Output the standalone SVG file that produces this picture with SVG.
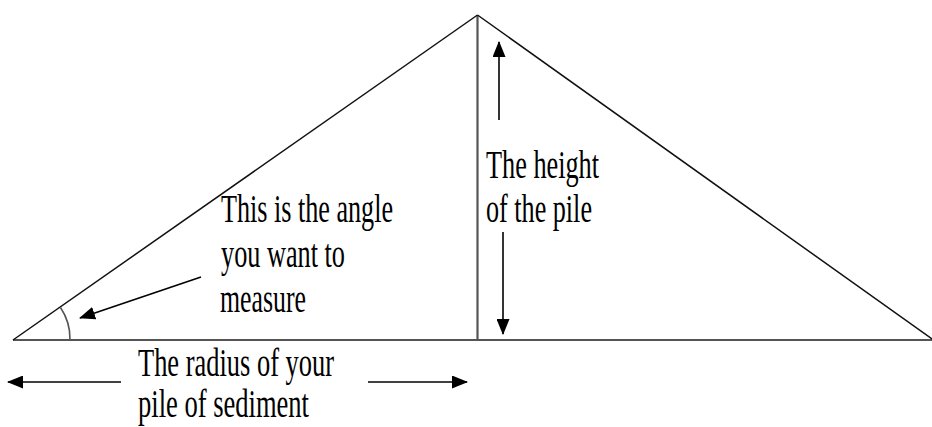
<svg xmlns="http://www.w3.org/2000/svg" width="932" height="427" viewBox="0 0 932 427">
  <style>
    .edge { stroke: #111; stroke-width: 1.5; fill: none; }
    .gray { stroke: #555; stroke-width: 2.2; fill: none; }
    .arr { stroke: #000; stroke-width: 1.6; fill: none; marker-end: url(#head); }
    .lbl { font-family: "Liberation Serif", "Times New Roman", serif; font-size: 41px; fill: #000; }
  </style>
  <defs>
    <marker id="head" markerUnits="userSpaceOnUse" markerWidth="16" markerHeight="13" refX="15" refY="6.5" orient="auto">
      <path d="M0,0 L16,6.5 L0,13 z" fill="#000"/>
    </marker>
  </defs>
  <rect width="932" height="427" fill="#fff"/>
  <g id="pile">
    <line class="gray" x1="13" y1="340" x2="932" y2="340"/>
    <line class="gray" x1="477.5" y1="15" x2="477.5" y2="340"/>
    <line class="edge" x1="13" y1="340" x2="477.5" y2="15"/>
    <line class="edge" x1="477.5" y1="15" x2="932" y2="339"/>
    <path class="gray" style="stroke-width:1.6" d="M 70 340 A 56 56 0 0 0 60.5 307.5"/>
  </g>
  <g id="connectors">
    <line class="arr" x1="201" y1="277" x2="80" y2="318"/>
    <line class="arr" x1="499" y1="120" x2="499" y2="42"/>
    <line class="arr" x1="503" y1="232" x2="503" y2="334"/>
    <line class="arr" x1="121" y1="382" x2="8" y2="382"/>
    <line class="arr" x1="368" y1="382" x2="467" y2="382"/>
  </g>
  <g id="angle-label">
    <text class="lbl" x="221" y="222" textLength="172" lengthAdjust="spacingAndGlyphs">This is the angle</text>
    <text class="lbl" x="221" y="267" textLength="124" lengthAdjust="spacingAndGlyphs">you want to</text>
    <text class="lbl" x="220" y="312" textLength="86" lengthAdjust="spacingAndGlyphs">measure</text>
  </g>
  <g id="height-label">
    <text class="lbl" x="486" y="178" textLength="113" lengthAdjust="spacingAndGlyphs">The height</text>
    <text class="lbl" x="486" y="222" textLength="106" lengthAdjust="spacingAndGlyphs">of the pile</text>
  </g>
  <g id="radius-label">
    <text class="lbl" x="138" y="376" textLength="196" lengthAdjust="spacingAndGlyphs">The radius of your</text>
    <text class="lbl" x="138" y="417" textLength="171" lengthAdjust="spacingAndGlyphs">pile of sediment</text>
  </g>
</svg>
